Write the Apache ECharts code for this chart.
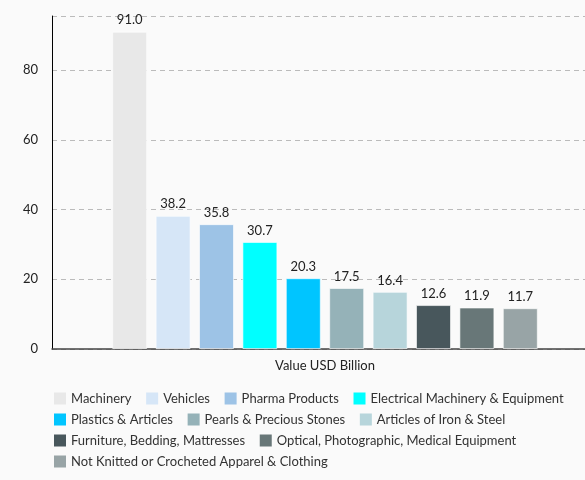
<!DOCTYPE html>
<html>
<head>
<meta charset="utf-8">
<script src="https://cdn.jsdelivr.net/npm/echarts@6/dist/echarts.min.js"></script>
<style>
  html, body { margin: 0; padding: 0; background: #fafafa; overflow: hidden; }
  #chart { width: 598px; height: 480px; }
</style>
</head>
<body>
<div id="chart"></div>
<script>
const categories = ['Value USD Billion']
const seriesNames = [
  'Machinery',
  'Vehicles',
  'Pharma Products',
  'Electrical Machinery & Equipment',
  'Plastics & Articles',
  'Pearls & Precious Stones',
  'Articles of Iron & Steel',
  'Furniture, Bedding, Mattresses',
  'Optical, Photographic, Medical Equipment',
  'Not Knitted or Crocheted Apparel & Clothing'
]
const seriesValues = [91.0, 38.2, 35.8, 30.7, 20.3, 17.5, 16.4, 12.6, 11.9, 11.7]
const colors = ['#e8e8e8', '#d6e6f7', '#9dc3e6', '#00ffff', '#00c5ff',
  '#95b2b8', '#b7d5db', '#48575c', '#687778', '#98a4a6']

const font = 'Lato, sans-serif'

const series = seriesNames.map((name, i) => ({
  name,
  type: 'bar',
  data: [seriesValues[i]],
  barWidth: 35,
  barGap: '24%',
  itemStyle: { color: colors[i], borderColor: 'rgba(255,255,255,0.6)', borderWidth: 1 },
  label: {
    show: true,
    position: 'top',
    distance: 5,
    formatter: (p) => p.value.toFixed(1),
    color: '#222',
    fontSize: 13,
    fontFamily: font
  }
}))

// the plot runs a bit past the window's right edge, like the original
const option = {
  backgroundColor: '#fafafa',
  animation: false,
  color: colors,
  grid: { left: 52, right: 0, top: 16, bottom: 131, containLabel: false },
  legend: {
    data: seriesNames,
    left: 49,
    top: 387,
    width: 530,
    icon: 'rect',
    itemWidth: 12,
    itemHeight: 12,
    itemGap: 8,
    itemStyle: { borderWidth: 0 },
    formatter: (name) => name + '  ',
    textStyle: { color: '#333', fontSize: 13, fontFamily: font }
  },
  xAxis: {
    type: 'category',
    data: categories,
    axisTick: { show: false },
    axisLine: { lineStyle: { color: '#444', width: 1.5 } },
    axisLabel: { color: '#222', fontSize: 13, fontFamily: font, margin: 10 }
  },
  yAxis: {
    type: 'value',
    min: 0,
    max: 95.5,
    interval: 20,
    axisLine: { show: true, lineStyle: { color: '#000' } },
    axisTick: { show: false },
    axisLabel: {
      color: '#222', fontSize: 13, fontFamily: font, margin: 14,
      showMaxLabel: false
    },
    splitLine: { lineStyle: { color: '#bbb', type: [5, 4] } }
  },
  series
}

const chart = echarts.init(document.getElementById('chart'))
chart.setOption(option)
</script>
</body>
</html>
